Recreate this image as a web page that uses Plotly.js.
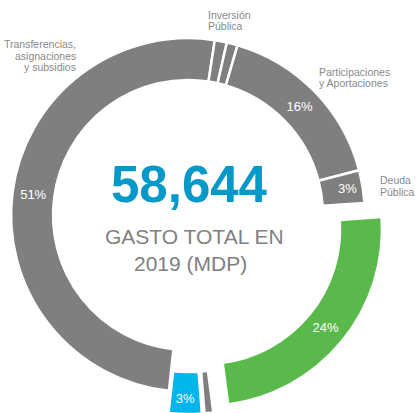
<!DOCTYPE html>
<html>
<head>
<meta charset="utf-8">
<script src="https://cdn.plot.ly/plotly-3.0.1.min.js"></script>
<style>
  html, body { margin: 0; padding: 0; width: 416px; height: 413px; overflow: hidden; background: #fff; }
  #chart { position: absolute; left: -11px; top: 0px; width: 427px; height: 430px; }
</style>
</head>
<body>
<div id="chart"></div>
<script>
// ---- data ----
const labels = [
  "Transferencias, asignaciones y subsidios",
  "Inversión Pública",
  "Bienes Muebles e Inmuebles",
  "Participaciones y Aportaciones",
  "Deuda Pública",
  "Servicios Personales",
  "Materiales y Suministros",
  "Servicios Generales"
];
const values = [50.7, 1.1, 1.0, 16.4, 3.0, 24.0, 0.8, 3.0];
const totalText = "58,644";
const centerLines = ["GASTO TOTAL EN", "2019 (MDP)"];

// ---- styles ----
const GRAY = "#7f7f7f";
const colors = [GRAY, GRAY, GRAY, GRAY, GRAY, "#59b94b", GRAY, "#00b4ec"];
const pulls = [0, 0, 0, 0, 0, 0.125, 0.125, 0.125];
const textpos = ["inside", "none", "none", "inside", "inside", "inside", "none", "inside"];

// paper helpers (div is 427x430, shifted 11px left)
const W = 427, H = 430, OFF = 11;
const px = x => (x + OFF) / W;
const py = y => 1 - y / H;

const FONT = "Liberation Sans, Arial, sans-serif";
const labelFont = {family: FONT, size: 10.5, color: "#898989"};
function lab(text, x, y, anchor) {
  return {text: text, x: px(x), y: py(y), xref: "paper", yref: "paper",
          xanchor: anchor, yanchor: "middle", showarrow: false, font: labelFont, borderpad: 0};
}

const annotations = [
  lab("Transferencias,", 77, 43.5, "right"),
  lab("asignaciones", 77, 56, "right"),
  lab("y subsidios", 77, 67, "right"),
  lab("Inversión", 207, 14.6, "left"),
  lab("Pública", 207, 25.6, "left"),
  lab("Participaciones", 318, 72, "left"),
  lab("y Aportaciones", 318, 83, "left"),
  lab("Deuda", 379, 179.6, "left"),
  lab("Pública", 379, 192, "left"),
  {text: "<b>" + totalText + "</b>", x: px(189), y: py(184), xref: "paper", yref: "paper",
   xanchor: "center", yanchor: "middle", showarrow: false,
   font: {family: FONT, size: 51, color: "#0499c9"}},
  {text: centerLines[0], x: px(194), y: py(237), xref: "paper", yref: "paper",
   xanchor: "center", yanchor: "middle", showarrow: false,
   font: {family: FONT, size: 21, color: "#808080"}},
  {text: centerLines[1], x: px(190), y: py(263), xref: "paper", yref: "paper",
   xanchor: "center", yanchor: "middle", showarrow: false,
   font: {family: FONT, size: 21, color: "#808080"}}
];

const trace = {
  type: "pie",
  labels: labels,
  values: values,
  sort: false,
  direction: "clockwise",
  rotation: 186.2,
  hole: 0.763,
  pull: pulls,
  marker: {colors: colors, line: {color: "#ffffff", width: 2.5}},
  texttemplate: "%{percent:.0%}",
  textposition: textpos,
  insidetextorientation: "horizontal",
  insidetextfont: {family: FONT, size: 13, color: "#ffffff"},
  domain: {x: [0, 398 / W], y: [1 - 414 / H, 1 - 16 / H]},
  hoverinfo: "label+percent",
  showlegend: false
};

const layout = {
  width: W, height: H,
  margin: {l: 0, r: 0, t: 0, b: 0},
  paper_bgcolor: "#ffffff",
  showlegend: false,
  annotations: annotations
};

Plotly.newPlot("chart", [trace], layout, {displayModeBar: false, staticPlot: true});
</script>
</body>
</html>
